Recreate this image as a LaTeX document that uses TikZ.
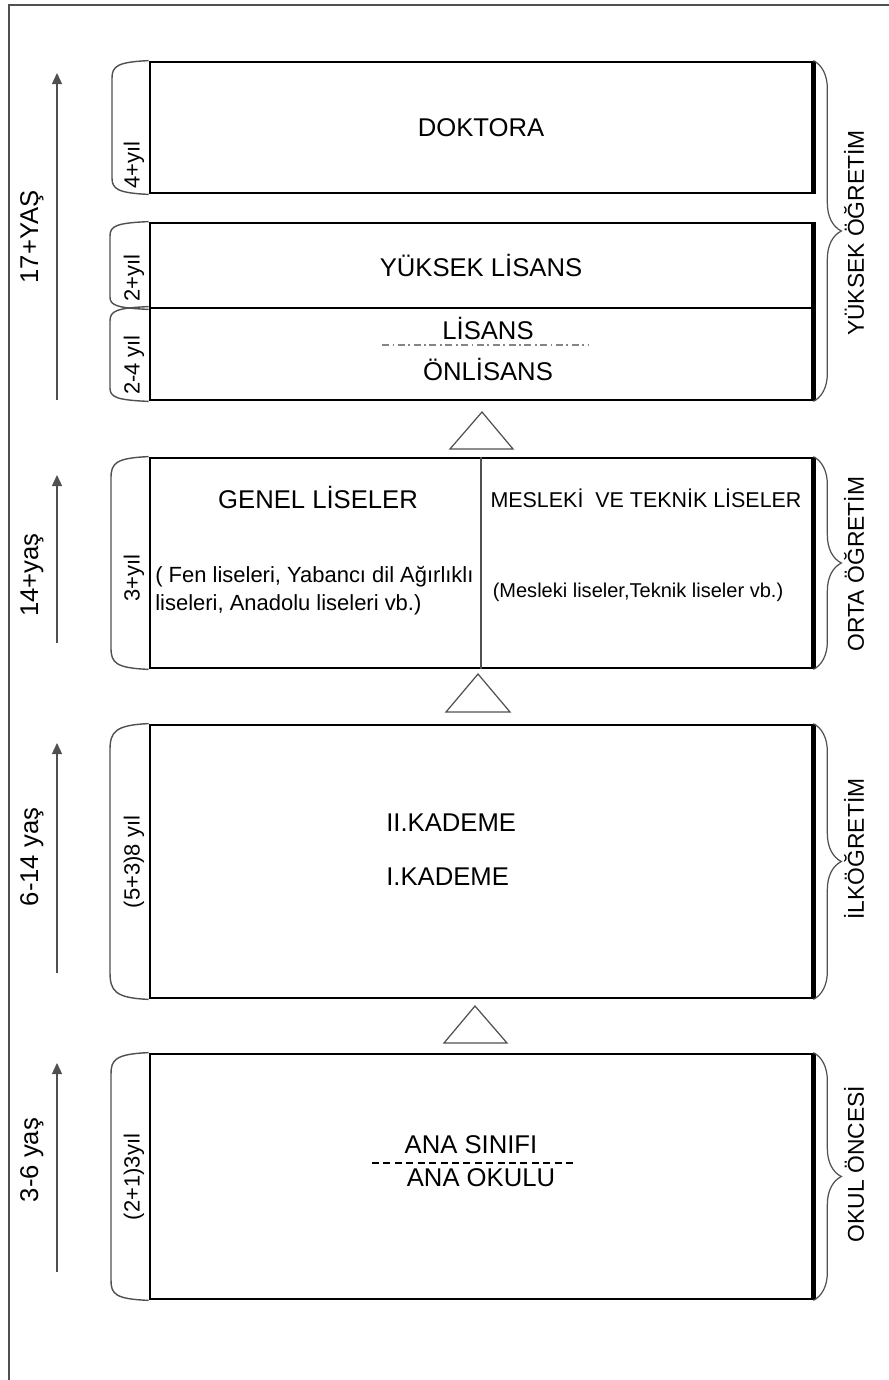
\documentclass[tikz,border=0pt]{standalone}
\usepackage{fontspec}
\setmainfont{Liberation Sans}
\usepackage{tikz}
\usetikzlibrary{arrows.meta,decorations.pathreplacing}
\definecolor{cizgi}{RGB}{80,80,80}
\newcommand{\yazi}{\fontsize{12.5}{15.9}\selectfont}
\newcommand{\buyuk}{\fontsize{14.6}{17}\selectfont}
\newcommand{\yasyazi}{\fontsize{14.6}{17}\selectfont}

\begin{document}
\begin{tikzpicture}[x=0.02cm, y=-0.02cm,
  box/.style={draw, line width=1.6pt, minimum width=13.24cm, inner sep=0pt, font=\buyuk},
  txt/.style={font=\buyuk, inner sep=0pt},
  small/.style={font=\yazi, inner sep=0pt},
  side/.style={font=\yazi, inner sep=0pt, rotate=90},
  agelbl/.style={font=\yasyazi, inner sep=0pt, rotate=90},
  agearr/.style={-{Triangle[length=0.22cm, width=0.2cm]}, cizgi, line width=0.8pt},
  tab/.style={cizgi, line width=0.8pt},
  brc/.style={decorate, decoration={brace, amplitude=0.56cm}, cizgi, line width=0.7pt},
  tri/.style={draw, cizgi, line width=0.7pt},
  edge/.style={line width=3pt},
]
\useasboundingbox (0,0) rectangle (889,1380);
% outer frame
\draw[cizgi, line width=0.9pt] (9,1380) -- (9,5) -- (889,5);

% levels
\node[box, minimum height=2.62cm] (dok) at (481,127.5) {DOKTORA};
\node[box, minimum height=1.70cm] (yl) at (481,265.5) {YÜKSEK LİSANS};
\node[box, minimum height=1.84cm] (lis) at (481,354) {};
\node[box, minimum height=4.20cm] (orta) at (481,563) {};
\node[box, minimum height=5.46cm] (ilk) at (481,861.5) {};
\node[box, minimum height=4.90cm] (okul) at (481,1176.5) {};
\foreach \b in {dok,yl,lis,orta,ilk,okul}
  \draw[edge] (\b.north east) -- (\b.south east);

% texts inside the boxes
\node[txt] (lisans) at (488,328) {LİSANS};
\node[txt] (onlisans) at (488,369) {ÖNLİSANS};
\draw[cizgi!70, line width=1pt, dash pattern=on 4pt off 2pt on 1pt off 2pt] (382,345) -- (588,345);

\draw[cizgi, line width=0.7pt] (orta.north) -- (orta.south);
\node[txt] (genel) at (318,497) {GENEL LİSELER};
\node[small, anchor=west, align=left] (genelalt) at (155,591)
  {( Fen liseleri, Yabancı dil Ağırlıklı\\liseleri, Anadolu liseleri vb.)};
\node[small, font=\fontsize{12.2}{15}\selectfont] (meslek) at (646,498) {MESLEKİ~~VE TEKNİK LİSELER};
\node[small, font=\fontsize{11.4}{14}\selectfont] (meslekalt) at (638,592) {(Mesleki liseler,Teknik liseler vb.)};

\node[txt, anchor=west] (kad2) at (386,823) {II.KADEME};
\node[txt, anchor=west] (kad1) at (386,877) {I.KADEME};

\node[txt] (sinif) at (471,1145) {ANA SINIFI};
\node[txt] (okulu) at (481,1178) {ANA OKULU};
\draw[line width=0.7pt, dash pattern=on 4pt off 2.5pt] (372,1163) -- (577,1163);

% triangles between levels
\coordinate (t1) at (482,412);
\coordinate (t2) at (478,674);
\coordinate (t3) at (475,1006);
\draw[tri] (t1) -- ++(31,37) -- ++(-63,0) -- cycle;
\draw[tri] (t2) -- ++(32,38) -- ++(-64,0) -- cycle;
\draw[tri] (t3) -- ++(32,37) -- ++(-63,0) -- cycle;

% year tabs on the left
\draw[tab] (dok.north west) .. controls (118,62) and (112,66) .. (112,78) -- (112,178)
  .. controls (112,189) and (118,193) .. (dok.south west);
\draw[tab] (yl.north west) .. controls (116,223) and (110,226) .. (110,236) -- (110,297)
  .. controls (110,305) and (116,308) .. (yl.south west);
\draw[tab] (lis.north west) .. controls (116,308) and (110,311) .. (110,321) -- (110,388)
  .. controls (110,397) and (116,400) .. (lis.south west);
\draw[tab] (orta.north west) .. controls (116,458) and (111,463) .. (111,478) -- (111,648)
  .. controls (111,663) and (116,668) .. (orta.south west);
\draw[tab] (ilk.north west) .. controls (115,725) and (110,732) .. (110,750) -- (110,972)
  .. controls (110,991) and (115,998) .. (ilk.south west);
\draw[tab] (okul.north west) .. controls (115,1054) and (111,1060) .. (111,1074) -- (111,1280)
  .. controls (111,1294) and (115,1299) .. (okul.south west);
\node[side] (y1) at (134,165) {4+yıl};
\node[side] (y2) at (134,278) {2+yıl};
\node[side] (y3) at (134,365) {2-4 yıl};
\node[side] (y4) at (134,578) {3+yıl};
\node[side] (y5) at (134,862) {(5+3)8 yıl};
\node[side] (y6) at (134,1177) {(2+1)3yıl};

% age arrows
\coordinate (a1s) at (57,400);  \coordinate (a1e) at (57,73);
\coordinate (a2s) at (57,643);  \coordinate (a2e) at (57,475);
\coordinate (a3s) at (57,973);  \coordinate (a3e) at (57,743);
\coordinate (a4s) at (57,1272); \coordinate (a4e) at (57,1063);
\draw[agearr] (a1s) -- (a1e);
\draw[agearr] (a2s) -- (a2e);
\draw[agearr] (a3s) -- (a3e);
\draw[agearr] (a4s) -- (a4e);
\node[agelbl] (yas1) at (32,237) {17+YAŞ};
\node[agelbl] (yas2) at (32,575) {14+yaş};
\node[agelbl] (yas3) at (32,857) {6-14 yaş};
\node[agelbl] (yas4) at (32,1160) {3-6 yaş};

% stages on the right
\draw[brc] (dok.north east) -- (lis.south east);
\draw[brc] (orta.north east) -- (orta.south east);
\draw[brc] (ilk.north east) -- (ilk.south east);
\draw[brc] (okul.north east) -- (okul.south east);
\node[side, font=\fontsize{13}{15}\selectfont] (st1) at (854,233) {YÜKSEK ÖĞRETİM};
\node[side, font=\fontsize{13}{15}\selectfont] (st2) at (854,564) {ORTA ÖĞRETİM};
\node[side, font=\fontsize{13}{15}\selectfont] (st3) at (854,849) {İLKÖĞRETİM};
\node[side, font=\fontsize{13}{15}\selectfont] (st4) at (854,1164) {OKUL ÖNCESİ};
\end{tikzpicture}
\end{document}
